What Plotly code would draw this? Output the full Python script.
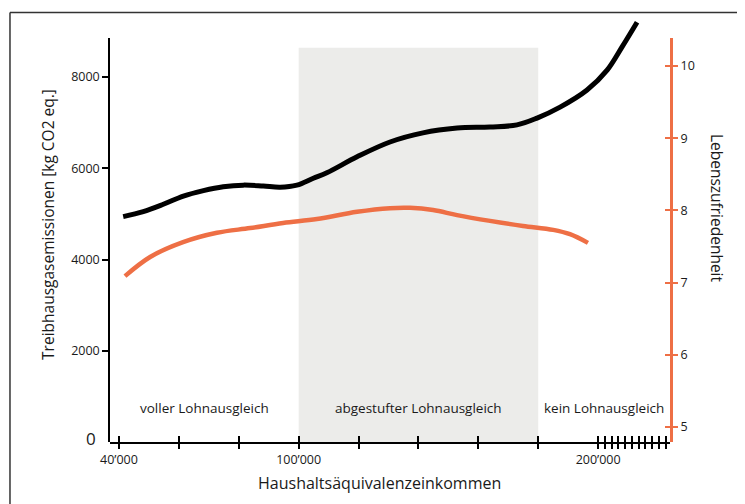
import plotly.graph_objects as go

# ---- data ----
income_emis = [41400, 48100, 54800, 61500, 68200, 74800, 81500, 88200, 93800, 99400,
               104900, 109400, 119500, 130500, 141500, 152900, 163900, 172900, 179600,
               187300, 196300, 203000, 208000, 213000]
emissions = [4940, 5050, 5210, 5390, 5510, 5595, 5630, 5610, 5585, 5630,
             5780, 5900, 6250, 6575, 6775, 6880, 6905, 6950, 7100,
             7340, 7715, 8150, 8660, 9200]

income_sat = [42000, 50400, 61400, 72700, 83800, 94800, 106100, 119500, 130500, 137200,
              144900, 152900, 163900, 174900, 185000, 190600, 196600]
satisfaction = [7.09, 7.355, 7.56, 7.69, 7.755, 7.825, 7.88, 7.98, 8.03, 8.035,
                8.005, 7.935, 7.855, 7.785, 7.73, 7.67, 7.55]

x_tickvals = [40000, 60000, 80000, 100000, 120000, 140000, 160000, 180000, 200000,
              202250, 204500, 206750, 209000, 211250, 213500, 215750, 218000, 220250, 222500]
x_ticktext = ["40’000", "", "", "100’000", "", "", "", "", "200’000",
              "", "", "", "", "", "", "", "", "", ""]
left_tickvals = [2000, 4000, 6000, 8000]
right_tickvals = [5, 6, 7, 8, 9, 10]

regions = ["voller Lohnausgleich", "abgestufter Lohnausgleich", "kein Lohnausgleich"]
shaded_from, shaded_to, shaded_top = 100000, 180000, 8640

BLACK = "#000000"
ORANGE = "#EE6F45"
TEXT = "#1a1a1a"
FONT = "Open Sans"

x_range = [37000, 224000]
y_range = [0, 9293]
y2_range = [4.792, 10.665]
vis_dom = 0.9528
y3_range = [0, 8855]
y4_range = [4.792, 10.388]

fig = go.Figure()

fig.add_trace(go.Scatter(x=income_emis, y=emissions, mode="lines",
                         line=dict(color=BLACK, width=5, shape="spline", smoothing=1),
                         xaxis="x", yaxis="y", showlegend=False, hoverinfo="skip"))
fig.add_trace(go.Scatter(x=income_sat, y=satisfaction, mode="lines",
                         line=dict(color=ORANGE, width=4.5, shape="spline", smoothing=1),
                         xaxis="x", yaxis="y2", showlegend=False, hoverinfo="skip"))
# empty traces so helper axes are rendered
for xa, ya in [("x2", "y"), ("x", "y3"), ("x", "y4"), ("x", "y5")]:
    fig.add_trace(go.Scatter(x=[None], y=[None], xaxis=xa, yaxis=ya,
                             showlegend=False, hoverinfo="skip"))

tickfont = dict(family=FONT, size=12.5, color=TEXT)

fig.update_layout(
    width=745, height=504,
    margin=dict(l=102, r=83, t=10, b=70, autoexpand=False),
    paper_bgcolor="white", plot_bgcolor="rgba(0,0,0,0)",
    font=dict(family=FONT, color=TEXT),
    xaxis=dict(domain=[0, 1], range=x_range, anchor="y", showgrid=False, zeroline=False,
               automargin=False,
               showline=True, linecolor=BLACK, linewidth=2,
               tickmode="array", tickvals=x_tickvals, ticktext=x_ticktext,
               ticks="outside", ticklen=5, tickwidth=1.5, tickcolor=BLACK,
               tickfont=tickfont),
    xaxis2=dict(overlaying="x", range=x_range, anchor="y", showgrid=False, zeroline=False,
                automargin=False,
                showline=False, tickmode="array", tickvals=x_tickvals,
                ticks="inside", ticklen=6, tickwidth=1.5, tickcolor=BLACK,
                showticklabels=False),
    yaxis=dict(domain=[0, 1], range=y_range, visible=False, showgrid=False, automargin=False),
    yaxis2=dict(overlaying="y", range=y2_range, visible=False, showgrid=False, automargin=False),
    yaxis3=dict(domain=[0, vis_dom], range=y3_range, anchor="x", side="left",
                automargin=False,
                showgrid=False, zeroline=False, showline=True, linecolor=BLACK, linewidth=1.5,
                tickmode="array", tickvals=left_tickvals,
                ticks="outside", ticklen=6, tickwidth=1.5, tickcolor=BLACK,
                tickfont=tickfont),
    yaxis4=dict(overlaying="y3", range=y4_range, anchor="x", side="right",
                automargin=False,
                showgrid=False, zeroline=False, showline=True, linecolor=ORANGE, linewidth=3,
                tickmode="array", tickvals=right_tickvals,
                ticks="outside", ticklen=5, tickwidth=1.5, tickcolor=ORANGE,
                tickfont=tickfont),
    yaxis5=dict(overlaying="y3", range=y4_range, anchor="x", side="right",
                automargin=False,
                showgrid=False, zeroline=False, showline=False,
                tickmode="array", tickvals=right_tickvals,
                ticks="inside", ticklen=5, tickwidth=1.5, tickcolor=ORANGE,
                showticklabels=False),
)

# shaded band
fig.add_shape(type="rect", xref="x", yref="y", x0=shaded_from, x1=shaded_to,
              y0=0, y1=shaded_top, fillcolor="#ECECEA", line_width=0, layer="below")

# outer frame (top and left)
fig.add_shape(type="line", xref="paper", yref="paper", x0=-0.1786, x1=1.16,
              y0=1.013, y1=1.013, line=dict(color="#333333", width=1.5))
fig.add_shape(type="line", xref="paper", yref="paper", x0=-0.1786, x1=-0.1786,
              y0=1.013, y1=-0.18, line=dict(color="#333333", width=1.5))

# region labels
for txt, xp in zip(regions, [0.168, 0.55, 0.882]):
    fig.add_annotation(text=txt, xref="paper", yref="paper", x=xp, y=0.080,
                       xanchor="center", yanchor="middle", showarrow=False,
                       font=dict(family=FONT, size=13.5, color=TEXT))

# "0" label
fig.add_annotation(text="0", xref="paper", yref="paper", x=-0.021, y=0.008,
                   xanchor="right", yanchor="middle", showarrow=False,
                   font=dict(family=FONT, size=17, color=TEXT))

# axis titles
fig.add_annotation(text="Treibhausgasemissionen [kg CO2 eq.]", xref="paper", yref="paper",
                   x=-0.1107, y=0.512, xanchor="center", yanchor="middle",
                   textangle=-90, showarrow=False,
                   font=dict(family=FONT, size=15.5, color=TEXT))
fig.add_annotation(text="Lebenszufriedenheit", xref="paper", yref="paper",
                   x=1.084, y=0.552, xanchor="center", yanchor="middle",
                   textangle=90, showarrow=False,
                   font=dict(family=FONT, size=15.5, color=TEXT))
fig.add_annotation(text="Haushaltsäquivalenzeinkommen", xref="paper", yref="paper",
                   x=0.482, y=-0.0967, xanchor="center", yanchor="middle", showarrow=False,
                   font=dict(family=FONT, size=16, color=TEXT))

fig.write_html("out.html")
